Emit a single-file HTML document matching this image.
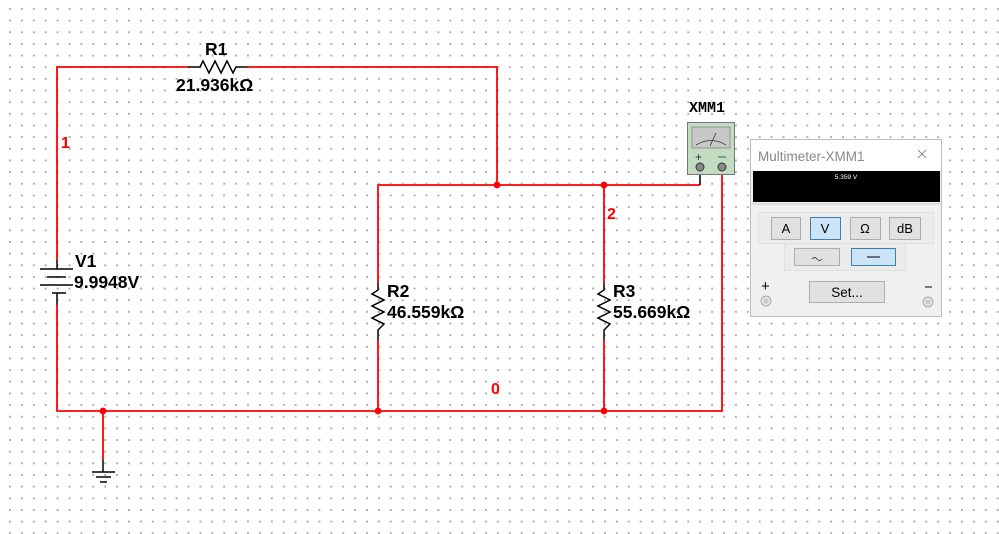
<!DOCTYPE html>
<html><head><meta charset="utf-8"><style>
html,body{margin:0;padding:0;background:#fff;width:999px;height:534px;overflow:hidden}
svg{display:block}
.t{font-family:"Liberation Sans",sans-serif;font-weight:bold;font-size:17.5px;fill:#000}
.n{font-family:"Liberation Sans",sans-serif;font-weight:bold;font-size:16px;fill:#f00}
</style></head><body>
<svg width="999" height="534" viewBox="0 0 999 534" xmlns="http://www.w3.org/2000/svg">
<defs>
<pattern id="g" x="9" y="8" width="11.9" height="11.65" patternUnits="userSpaceOnUse">
<rect x="0" y="0" width="2" height="2" fill="#b0b0b0" shape-rendering="crispEdges"/>
</pattern>
</defs>
<rect width="999" height="534" fill="#fff"/>
<rect width="999" height="534" fill="url(#g)"/>
<g stroke="#f00" stroke-width="1.8" fill="none">
<polyline points="57,260 57,67 188,67"/>
<polyline points="247,67 497,67 497,185"/>
<polyline points="57,305 57,411 722,411 722,172"/>
<polyline points="378,283 378,185 700,185"/>
<line x1="378" y1="340" x2="378" y2="411"/>
<line x1="604" y1="185" x2="604" y2="283"/>
<line x1="604" y1="340" x2="604" y2="411"/>
<line x1="103" y1="411" x2="103" y2="460"/>
</g>
<g fill="#f00">
<circle cx="497" cy="185" r="3.4"/><circle cx="604" cy="185" r="3.4"/>
<circle cx="378" cy="411" r="3.4"/><circle cx="604" cy="411" r="3.4"/>
<circle cx="103" cy="411" r="3.4"/>
</g>
<g stroke="#000" stroke-width="1.5" fill="none">
<polyline points="188,67 200,67 203,61 209,73 215,61 221,73 227,61 233,73 236,67 247,67"/>
<polyline points="378,283 378,290 372,294 384,300 372,306 384,312 372,318 384,324 378,330 378,340"/>
<polyline points="604,283 604,290 598,294 610,300 598,306 610,312 598,318 610,324 604,330 604,340"/>
<line x1="57" y1="260" x2="57" y2="269"/>
<line x1="40" y1="269" x2="73" y2="269"/>
<line x1="47" y1="277" x2="66" y2="277"/>
<line x1="40" y1="285" x2="73" y2="285"/>
<line x1="52" y1="293" x2="66" y2="293"/>
<line x1="57" y1="293" x2="57" y2="305"/>
<line x1="103" y1="460" x2="103" y2="472"/>
<line x1="92" y1="472" x2="115" y2="472"/>
<line x1="96" y1="477" x2="111" y2="477"/>
<line x1="100" y1="482" x2="107" y2="482"/>
<polyline points="700,185 700,167"/>
<line x1="722" y1="172" x2="722" y2="167"/>
</g>
<text class="t" x="205" y="55">R1</text>
<text class="t" x="176" y="91">21.936kΩ</text>
<text class="t" x="75" y="267">V1</text>
<text class="t" x="74" y="288">9.9948V</text>
<text class="t" x="387" y="297">R2</text>
<text class="t" x="387" y="318">46.559kΩ</text>
<text class="t" x="613" y="297">R3</text>
<text class="t" x="613" y="318">55.669kΩ</text>
<text class="n" x="61" y="148">1</text>
<text class="n" x="607" y="219">2</text>
<text class="n" x="491" y="394">0</text>
<text x="689" y="112" style="font-family:'Liberation Mono',monospace;font-weight:bold;font-size:15px">XMM1</text>
<rect x="687.5" y="122.5" width="47" height="52" fill="#c1dcc1" stroke="#777" stroke-width="1"/>
<rect x="692" y="127" width="38" height="21" fill="#c8c8c8" stroke="#888" stroke-width="0.8"/>
<path d="M696,145 Q711,136 726,145" stroke="#333" fill="none" stroke-width="0.8"/>
<line x1="710" y1="146" x2="716" y2="133" stroke="#333" stroke-width="0.8"/>
<text x="695" y="161" style="font-family:'Liberation Sans',sans-serif;font-size:12px;fill:#333">+</text>
<line x1="718" y1="157" x2="726" y2="157" stroke="#333" stroke-width="0.8"/>
<circle cx="700" cy="167" r="4" fill="#888" stroke="#333" stroke-width="1"/>
<circle cx="722" cy="167" r="4" fill="#888" stroke="#333" stroke-width="1"/>
<rect x="750.5" y="139.5" width="191" height="177" fill="#f0f0f0" stroke="#bdbdbd"/>
<rect x="751" y="140" width="190" height="31" fill="#fff"/>
<text x="758" y="161" style="font-family:'Liberation Sans',sans-serif;font-size:13.5px;fill:#888">Multimeter-XMM1</text>
<path d="M918,150 L926,158 M926,150 L918,158" stroke="#888" stroke-width="1"/>
<rect x="753" y="171" width="187" height="31" fill="#000"/>
<text x="846" y="179" text-anchor="middle" style="font-family:'Liberation Sans',sans-serif;font-size:6.5px;fill:#fff">5.359 V</text>
<line x1="751" y1="204" x2="941" y2="204" stroke="#ccc"/>
<rect x="758.5" y="212.5" width="175" height="31" fill="#ebebeb" stroke="#e0e0e0"/>
<rect x="784.5" y="243.5" width="121" height="27" fill="#ebebeb" stroke="#e0e0e0"/>
<g style="font-family:'Liberation Sans',sans-serif;font-size:13px">
<rect x="771.5" y="217.5" width="29" height="22" fill="#e1e1e1" stroke="#adadad"/>
<text x="786" y="233" text-anchor="middle">A</text>
<rect x="810.5" y="217.5" width="30" height="22" fill="#cce4f7" stroke="#3c7fb1"/>
<text x="825" y="233" text-anchor="middle">V</text>
<rect x="850.5" y="217.5" width="30" height="22" fill="#e1e1e1" stroke="#adadad"/>
<text x="865" y="233" text-anchor="middle">Ω</text>
<rect x="889.5" y="217.5" width="31" height="22" fill="#e1e1e1" stroke="#adadad"/>
<text x="905" y="233" text-anchor="middle">dB</text>
<rect x="794.5" y="248.5" width="45" height="17" fill="#e1e1e1" stroke="#adadad"/>
<path d="M812,259 q2.5,-3 5,0 t5,0" stroke="#444" fill="none" stroke-width="0.9"/>
<rect x="851.5" y="248.5" width="44" height="17" fill="#cce4f7" stroke="#3c7fb1"/>
<line x1="867" y1="257" x2="880" y2="257" stroke="#000"/>
<rect x="809.5" y="281.5" width="75" height="21" fill="#e1e1e1" stroke="#adadad"/>
<text x="847" y="297" text-anchor="middle" style="font-size:13.5px">Set...</text>
<text x="761" y="291" style="font-size:15px">+</text>
<line x1="925" y1="287" x2="932" y2="287" stroke="#000"/>
</g>
<circle cx="766" cy="301" r="5" fill="#e6e6e6" stroke="#aaa"/>
<circle cx="766" cy="301" r="2.8" fill="#ccc"/>
<circle cx="928" cy="302" r="5" fill="#e6e6e6" stroke="#aaa"/>
<circle cx="928" cy="302" r="2.8" fill="#ccc"/>
</svg>
</body></html>
